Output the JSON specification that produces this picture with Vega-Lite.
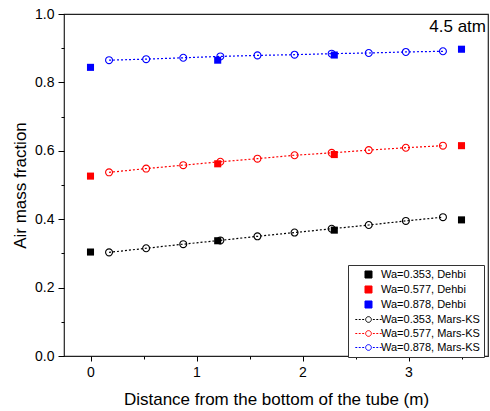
{
  "$schema": "https://vega.github.io/schema/vega-lite/v6.json",
  "autosize": "none",
  "width": 424,
  "height": 342,
  "padding": {"left": 64, "top": 14, "right": 2, "bottom": 55},
  "config": {
    "font": "Liberation Sans",
    "view": {"stroke": "#222", "strokeWidth": 1.2},
    "axis": {"grid": false, "domain": false, "labelFont": "Liberation Sans", "titleFont": "Liberation Sans", "labelColor": "#000", "titleColor": "#000", "tickColor": "#000", "labelFontSize": 14, "titleFontSize": 17, "titleFontWeight": "normal"},
    "legend": {
      "title": null, "orient": "none", "legendX": 284, "legendY": 251,
      "strokeColor": "#333", "padding": 4, "fillColor": "white",
      "labelFont": "Liberation Sans", "labelFontSize": 11, "labelColor": "#000",
      "symbolSize": 36, "symbolOffset": 11, "labelOffset": 7, "rowPadding": 2
    }
  },
  "datasets": {
    "pts": [
      {"series": "Wa=0.353, Mars-KS", "x": 0.175, "y": 0.303},
      {"series": "Wa=0.353, Mars-KS", "x": 0.525, "y": 0.315},
      {"series": "Wa=0.353, Mars-KS", "x": 0.875, "y": 0.327},
      {"series": "Wa=0.353, Mars-KS", "x": 1.225, "y": 0.338},
      {"series": "Wa=0.353, Mars-KS", "x": 1.575, "y": 0.350},
      {"series": "Wa=0.353, Mars-KS", "x": 1.925, "y": 0.361},
      {"series": "Wa=0.353, Mars-KS", "x": 2.275, "y": 0.372},
      {"series": "Wa=0.353, Mars-KS", "x": 2.625, "y": 0.383},
      {"series": "Wa=0.353, Mars-KS", "x": 2.975, "y": 0.395},
      {"series": "Wa=0.353, Mars-KS", "x": 3.325, "y": 0.406},
      {"series": "Wa=0.577, Mars-KS", "x": 0.175, "y": 0.537},
      {"series": "Wa=0.577, Mars-KS", "x": 0.525, "y": 0.548},
      {"series": "Wa=0.577, Mars-KS", "x": 0.875, "y": 0.558},
      {"series": "Wa=0.577, Mars-KS", "x": 1.225, "y": 0.568},
      {"series": "Wa=0.577, Mars-KS", "x": 1.575, "y": 0.577},
      {"series": "Wa=0.577, Mars-KS", "x": 1.925, "y": 0.587},
      {"series": "Wa=0.577, Mars-KS", "x": 2.275, "y": 0.594},
      {"series": "Wa=0.577, Mars-KS", "x": 2.625, "y": 0.602},
      {"series": "Wa=0.577, Mars-KS", "x": 2.975, "y": 0.609},
      {"series": "Wa=0.577, Mars-KS", "x": 3.325, "y": 0.615},
      {"series": "Wa=0.878, Mars-KS", "x": 0.175, "y": 0.865},
      {"series": "Wa=0.878, Mars-KS", "x": 0.525, "y": 0.868},
      {"series": "Wa=0.878, Mars-KS", "x": 0.875, "y": 0.872},
      {"series": "Wa=0.878, Mars-KS", "x": 1.225, "y": 0.876},
      {"series": "Wa=0.878, Mars-KS", "x": 1.575, "y": 0.879},
      {"series": "Wa=0.878, Mars-KS", "x": 1.925, "y": 0.881},
      {"series": "Wa=0.878, Mars-KS", "x": 2.275, "y": 0.884},
      {"series": "Wa=0.878, Mars-KS", "x": 2.625, "y": 0.886},
      {"series": "Wa=0.878, Mars-KS", "x": 2.975, "y": 0.889},
      {"series": "Wa=0.878, Mars-KS", "x": 3.325, "y": 0.891}
    ],
    "dehbi": [
      {"series": "Wa=0.353, Dehbi", "x": 0.0, "y": 0.304},
      {"series": "Wa=0.353, Dehbi", "x": 1.2, "y": 0.337},
      {"series": "Wa=0.353, Dehbi", "x": 2.3, "y": 0.368},
      {"series": "Wa=0.353, Dehbi", "x": 3.5, "y": 0.398},
      {"series": "Wa=0.577, Dehbi", "x": 0.0, "y": 0.526},
      {"series": "Wa=0.577, Dehbi", "x": 1.2, "y": 0.562},
      {"series": "Wa=0.577, Dehbi", "x": 2.3, "y": 0.589},
      {"series": "Wa=0.577, Dehbi", "x": 3.5, "y": 0.615},
      {"series": "Wa=0.878, Dehbi", "x": 0.0, "y": 0.844},
      {"series": "Wa=0.878, Dehbi", "x": 1.2, "y": 0.865},
      {"series": "Wa=0.878, Dehbi", "x": 2.3, "y": 0.880},
      {"series": "Wa=0.878, Dehbi", "x": 3.5, "y": 0.897}
    ],
    "note": [{"label": "4.5 atm", "x": 3.731, "y": 0.947}]
  },
  "encoding": {
    "x": {"field": "x", "type": "quantitative", "scale": {"domain": [-0.25, 3.75], "nice": false, "zero": false},
      "axis": {"title": "Distance from the bottom of the tube (m)", "values": [0, 0.5, 1, 1.5, 2, 2.5, 3, 3.5], "labelExpr": "datum.value % 1 == 0 ? format(datum.value, 'd') : ''", "tickSize": {"condition": {"test": "datum.value % 1 == 0", "value": 5}, "value": 3}, "labelPadding": 4, "titlePadding": 12}},
    "y": {"field": "y", "type": "quantitative", "scale": {"domain": [0, 1], "nice": false},
      "axis": {"title": "Air mass fraction", "values": [0, 0.1, 0.2, 0.3, 0.4, 0.5, 0.6, 0.7, 0.8, 0.9, 1.0], "labelExpr": "round(datum.value * 10) % 2 == 0 ? format(datum.value, '.1f') : ''", "tickSize": {"condition": {"test": "round(datum.value * 10) % 2 == 0", "value": 6}, "value": 3}, "labelPadding": 4, "titlePadding": 5}}
  },
  "layer": [
    {
      "data": {"name": "pts"},
      "mark": {"type": "line", "strokeDash": [2, 2], "strokeWidth": 1.2},
      "encoding": {"color": {"field": "series", "type": "nominal",
          "scale": {"domain": ["Wa=0.353, Dehbi", "Wa=0.577, Dehbi", "Wa=0.878, Dehbi", "Wa=0.353, Mars-KS", "Wa=0.577, Mars-KS", "Wa=0.878, Mars-KS"],
                    "range": ["#000000", "#ff0000", "#0000ff", "#000000", "#ff0000", "#0000ff"]},
          "legend": {
            "values": ["Wa=0.353, Dehbi", "Wa=0.577, Dehbi", "Wa=0.878, Dehbi", "Wa=0.353, Mars-KS", "Wa=0.577, Mars-KS", "Wa=0.878, Mars-KS"],
            "encode": {"symbols": {"update": {
              "shape": {"signal": "indexof(datum.value, 'Dehbi') >= 0 ? 'M-1.17,-1.17H1.17V1.17H-1.17Z' : 'M-4.4,0H-3.75M-3.25,0H-2.6M-2.1,0H-1.45M-0.95,0A0.95,0.95 0 1,1 0.95,0A0.95,0.95 0 1,1 -0.95,0M1.45,0H2.1M2.6,0H3.25M3.75,0H4.4'"},
              "fill": {"signal": "scale('color', datum.value)"},
              "fillOpacity": {"signal": "indexof(datum.value, 'Dehbi') >= 0 ? 1 : 0"},
              "stroke": {"signal": "scale('color', datum.value)"},
              "strokeWidth": {"value": 1},
              "strokeDash": {"value": []},
              "opacity": {"value": 1}
            }}}
          }}}
    },
    {
      "data": {"name": "pts"},
      "mark": {"type": "point", "shape": "circle", "filled": false, "size": 48, "strokeWidth": 1.1, "opacity": 1},
      "encoding": {"color": {"field": "series", "type": "nominal"}}
    },
    {
      "data": {"name": "dehbi"},
      "mark": {"type": "point", "shape": "square", "filled": true, "size": 50, "opacity": 1},
      "encoding": {"color": {"field": "series", "type": "nominal"}}
    },
    {
      "data": {"name": "note"},
      "mark": {"type": "text", "align": "right", "baseline": "alphabetic", "fontSize": 17, "font": "Liberation Sans", "color": "#000"},
      "encoding": {"text": {"field": "label"}}
    }
  ]
}
